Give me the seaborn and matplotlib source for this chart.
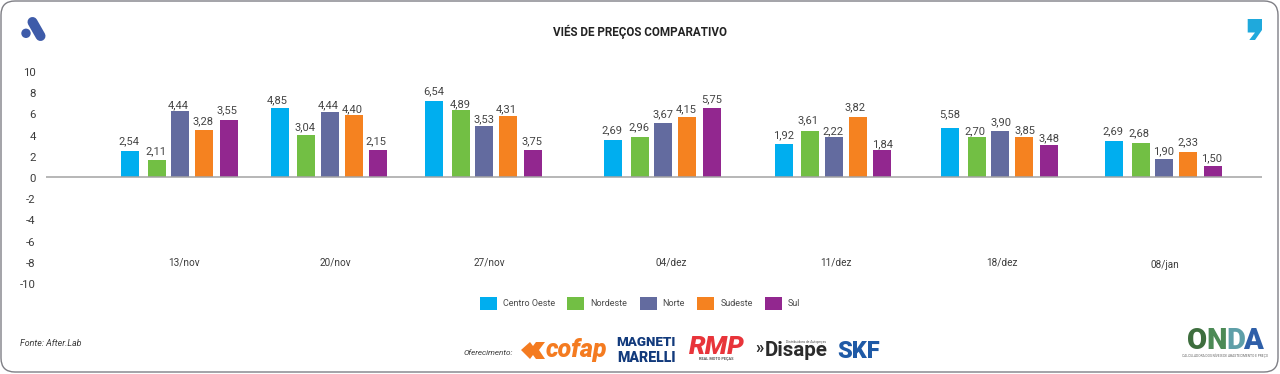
import numpy as np
import pandas as pd
import matplotlib
matplotlib.use("Agg")
import matplotlib.pyplot as plt
import matplotlib.transforms as mtrans
from matplotlib.patches import FancyBboxPatch, Polygon, Circle
import seaborn as sns

# ---- data ----
periods = ["13/nov", "20/nov", "27/nov", "04/dez", "11/dez", "18/dez", "08/jan"]
regions = ["Centro Oeste", "Nordeste", "Norte", "Sudeste", "Sul"]
# bar heights as drawn in the picture (on the axis scale)
bars_centro_oeste = [2.45, 6.55, 7.17, 3.52, 3.08, 4.59, 3.40]
bars_nordeste = [1.57, 3.93, 6.35, 3.74, 4.31, 3.74, 3.18]
bars_norte = [6.20, 6.13, 4.84, 5.12, 3.74, 4.31, 1.70]
bars_sudeste = [4.40, 5.88, 5.75, 5.69, 5.63, 3.74, 2.39]
bars_sul = [5.40, 2.58, 2.58, 6.54, 2.58, 2.99, 1.04]
# values printed over the bars
labels_centro_oeste = [2.54, 4.85, 6.54, 2.69, 1.92, 5.58, 2.69]
labels_nordeste = [2.11, 3.04, 4.89, 2.96, 3.61, 2.70, 2.68]
labels_norte = [4.44, 4.44, 3.53, 3.67, 2.22, 3.90, 1.90]
labels_sudeste = [3.28, 4.40, 4.31, 4.15, 3.82, 3.85, 2.33]
labels_sul = [3.55, 2.15, 3.75, 5.75, 1.84, 3.48, 1.50]
y_ticks = [10, 8, 6, 4, 2, 0, -2, -4, -6, -8, -10]

# ---- layout (pixels of the 1280x374 canvas) ----
W, H = 1280, 374
colors = ["#00AEEF", "#72BF44", "#636B9F", "#F58220", "#92278F"]
group_left = [121.0, 270.7, 425.3, 604.0, 774.7, 941.3, 1105.0]
series_offset = [9.0, 35.5, 59.0, 83.0, 107.7]
bar_px = 18.0
zero_px, unit_px = 177.0, 10.6
ax_top, ax_bot = 60, 295
period_x = [184, 335, 489, 671, 836, 1002, 1165]
period_y = [262, 262, 262, 262, 262, 262, 265.5]
label_x = [[128.7, 277.7, 433.3, 612.0, 783.3, 949.3, 1113.3],
           [155.7, 304.7, 460.3, 638.7, 808.3, 974.7, 1138.7],
           [178.3, 328.0, 484.0, 662.7, 832.7, 1000.7, 1163.7],
           [203.0, 352.7, 506.0, 686.0, 855.0, 1024.7, 1188.3],
           [227.3, 376.3, 531.7, 711.3, 882.3, 1048.7, 1211.7]]
label_y = [[141.0, 100.0, 91.7, 130.3, 135.3, 114.0, 131.0],
           [151.0, 127.0, 104.0, 127.7, 120.3, 131.0, 133.0],
           [105.0, 105.7, 119.7, 114.0, 131.0, 122.7, 151.3],
           [121.7, 109.3, 109.3, 109.3, 107.3, 130.3, 142.7],
           [110.7, 141.0, 141.0, 99.0, 144.3, 138.3, 158.7]]

sns.set_theme(style="white")
plt.rcParams["font.family"] = ["Roboto", "DejaVu Sans"]

series_bars = [bars_centro_oeste, bars_nordeste, bars_norte, bars_sudeste, bars_sul]
series_labels = [labels_centro_oeste, labels_nordeste, labels_norte, labels_sudeste, labels_sul]
rows = []
for s, region in enumerate(regions):
    for g, period in enumerate(periods):
        rows.append({"pos": group_left[g] + series_offset[s], "valor": series_bars[s][g],
                     "Região": region, "periodo": period})
df = pd.DataFrame(rows)

fig = plt.figure(figsize=(W / 100, H / 100), dpi=100, facecolor="white")
ax = fig.add_axes([46 / W, 1 - ax_bot / H, (1262 - 46) / W, (ax_bot - ax_top) / H])
min_step = np.nanmin(np.diff(np.unique(df["pos"])))
sns.barplot(data=df, x="pos", y="valor", hue="Região", hue_order=regions,
            palette=dict(zip(regions, colors)), native_scale=True, dodge=False,
            width=bar_px / min_step, saturation=1, ax=ax, linewidth=0, zorder=2)
ax.set_xlim(46, 1262)
ax.set_ylim((zero_px - ax_bot) / unit_px, (zero_px - ax_top) / unit_px)
ax.patch.set_alpha(0)
for sp in ax.spines.values():
    sp.set_visible(False)
ax.axhline(0, color="#A3A3A3", lw=1.1, zorder=3)
ax.set_xlabel("")
ax.set_ylabel("")
ax.set_xticks([])
ax.set_yticks(y_ticks)
ax.set_yticklabels([str(t) for t in y_ticks], fontsize=8.2, color="#3C3C3C")
ax.tick_params(axis="y", length=0, pad=7.4)
shift = mtrans.ScaledTranslation(0, -0.9 / 100, fig.dpi_scale_trans)
for lab in ax.get_yticklabels():
    lab.set_transform(lab.get_transform() + shift)


def to_y(px):
    return (zero_px - px) / unit_px


for s in range(len(regions)):
    for g in range(len(periods)):
        ax.text(label_x[s][g], to_y(label_y[s][g]),
                f"{series_labels[s][g]:.2f}".replace(".", ","),
                ha="center", va="center", fontsize=8.0, color="#444444", zorder=4)
for g, period in enumerate(periods):
    ax.text(period_x[g], to_y(period_y[g]), period, ha="center", va="center",
            fontsize=7.2, color="#3C3C3C")

sns.move_legend(ax, loc="center left", bbox_to_anchor=(480 / W, 1 - 303.5 / H),
                bbox_transform=fig.transFigure, ncol=5, frameon=False, title=None,
                fontsize=6.5, handlelength=1.88, handleheight=1.77, handletextpad=0.68,
                columnspacing=1.35, borderaxespad=0, borderpad=0)
for t in ax.get_legend().get_texts():
    t.set_color("#4A4A4A")

# ---- overlay: frame, title, source and logos ----
ov = fig.add_axes([0, 0, 1, 1], zorder=5)
ov.set_xlim(0, W)
ov.set_ylim(H, 0)
ov.axis("off")
ov.patch.set_alpha(0)
ov.add_patch(FancyBboxPatch((15, 15), W - 31, H - 31, boxstyle="round,pad=14,rounding_size=14",
                            fc="none", ec="#7F7F85", lw=1.0))
ov.text(640, 31.5, "VIÉS DE PREÇOS COMPARATIVO", ha="center", va="center",
        fontsize=8.35, fontweight="bold", color="#222222")
ov.text(20, 344, "Fonte: After.Lab", ha="left", va="center", fontsize=6.4,
        style="italic", color="#3C3C3C")
ov.text(464, 353, "Oferecimento:", ha="left", va="center", fontsize=5.9,
        style="italic", color="#3C3C3C")

# left "A" mark
ov.plot([32.5, 40.5], [22, 36], color="#3E5BA9", lw=7.2, solid_capstyle="round")
ov.add_patch(Circle((26, 33.3), 4.7, fc="#3E5BA9", ec="none"))
# right comma mark
ov.add_patch(Polygon([(1247.7, 19), (1262, 19), (1262, 30), (1255, 40), (1249.3, 40),
                      (1255, 32.5), (1247.7, 32.5)], closed=True, fc="#1FA9DC", ec="none"))

# Cofap
ov.add_patch(Polygon([(521, 350), (530, 342), (533, 346), (536, 342), (545, 342), (539, 350),
                      (545, 359), (536, 359), (533, 355), (530, 359)],
                     closed=True, fc="#F47B20", ec="none"))
ov.text(576, 350, "cofap", ha="center", va="center", fontsize=18, fontweight="black",
        style="italic", color="#F47B20")
# Magneti Marelli
ov.text(646, 343, "MAGNETI", ha="center", va="center", fontsize=9.6, fontweight="black",
        color="#123A7C")
ov.text(646, 358, "MARELLI", ha="center", va="center", fontsize=10.2, fontweight="black",
        color="#123A7C")
# RMP
ov.text(716.5, 347, "RMP", ha="center", va="center", fontsize=19, fontweight="black",
        style="italic", color="#E8343A")
ov.text(716, 359, "REAL MOTO PEÇAS", ha="center", va="center", fontsize=2.8,
        fontweight="bold", color="#555555")
# Disape
ov.text(755, 349, "»", ha="left", va="center", fontsize=12, fontweight="bold", color="#2B2B2B")
ov.text(764.5, 351, "Disape", ha="left", va="center", fontsize=14.8, fontweight="bold",
        color="#2B2B2B")
ov.text(806, 342, "Distribuidora de Autopeças", ha="center", va="center", fontsize=2.4,
        color="#555555")
# SKF
ov.text(858.5, 351, "SKF", ha="center", va="center", fontsize=17, fontweight="black",
        color="#1F5AA6")
# ONDA
for ch, x, c in zip("ONDA", [1197, 1216.5, 1235.5, 1253],
                    ["#3E6E3E", "#4C8A55", "#5E9FA8", "#2F5FA8"]):
    ov.text(x, 341, ch, ha="center", va="center", fontsize=21, fontweight="black", color=c)
ov.text(1225, 355.5, "CALCULADORA DOS NÍVEIS DE ABASTECIMENTO E PREÇO", ha="center", va="center",
        fontsize=2.3, color="#666666")

fig.savefig("out.png", dpi=100, facecolor="white")
